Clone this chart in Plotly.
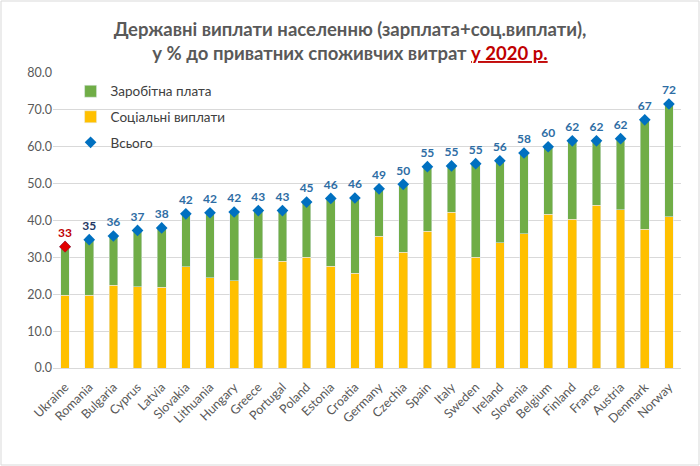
import plotly.graph_objects as go

countries = ["Ukraine", "Romania", "Bulgaria", "Cyprus", "Latvia", "Slovakia", "Lithuania",
             "Hungary", "Greece", "Portugal", "Poland", "Estonia", "Croatia", "Germany",
             "Czechia", "Spain", "Italy", "Sweden", "Ireland", "Slovenia", "Belgium",
             "Finland", "France", "Austria", "Denmark", "Norway"]
social = [19.7, 19.7, 22.5, 22.1, 21.9, 27.4, 24.5, 23.7, 29.6, 28.9, 30.0, 27.6, 25.7, 35.7,
          31.4, 37.1, 42.2, 30.1, 33.9, 36.4, 41.7, 40.3, 44.2, 42.9, 37.6, 41.0]
total = [32.9, 34.8, 35.8, 37.3, 38.0, 41.8, 42.1, 42.3, 42.7, 42.7, 45.0, 46.0, 46.1, 48.6,
         49.8, 54.6, 54.8, 55.4, 56.2, 58.3, 60.0, 61.6, 61.6, 62.2, 67.3, 71.6]
wage = [round(t - s, 1) for t, s in zip(total, social)]
labels = [f"{round(t):d}" for t in total]
highlight = "Ukraine"

FONT = "Lato, 'Noto Sans', sans-serif"
W, H = 700, 466
L, R, T, B = 53, 19, 73, 98

label_colors = ["#C00000" if c == highlight else ("#1F3864" if c == "Romania" else "#2E6DA4")
                for c in countries]

fig = go.Figure()
fig.add_trace(go.Bar(x=countries, y=social, name="Соціальні виплати",
                     marker_color="#FFC000", width=0.36, legendrank=2, legendgroup="b"))
fig.add_trace(go.Bar(x=countries, y=wage, name="Заробітна плата",
                     marker_color="#70AD47", width=0.36, legendrank=1, legendgroup="a"))
fig.add_trace(go.Scatter(x=countries, y=total, name="Всього", mode="markers+text",
                         marker=dict(symbol="diamond", size=9, color="#0070C0"),
                         text=labels, textposition="top center",
                         textfont=dict(size=12, color=label_colors, family=FONT, weight="bold"),
                         legendrank=3, legendgroup="c", cliponaxis=False))
hi = countries.index(highlight)
fig.add_trace(go.Scatter(x=[countries[hi]], y=[total[hi]], mode="markers", showlegend=False,
                         marker=dict(symbol="diamond", size=9, color="#E00000"),
                         hoverinfo="skip", cliponaxis=False))

pw = W - L - R
ph = H - T - B
fig.update_layout(
    width=W, height=H,
    margin=dict(l=L, r=R, t=T, b=B, autoexpand=False),
    barmode="stack",
    plot_bgcolor="white", paper_bgcolor="white",
    font=dict(family=FONT, color="#595959", size=12),
    title=dict(
        text="Державні виплати населенню (зарплата+соц.виплати),<br>у % до приватних споживчих витрат "
             "<span style='color:#C00000'><u>у 2020 р.</u></span>",
        x=0.5, xanchor="center", y=1 - 36 / H, yanchor="middle",
        font=dict(size=18.5, color="#595959", family=FONT, weight="bold"),
    ),
    legend=dict(x=0.028, y=0.99, xanchor="left", yanchor="top", bgcolor="rgba(0,0,0,0)",
                traceorder="grouped", tracegroupgap=5,
                font=dict(size=13.5, color="#404040", family=FONT), itemwidth=30),
    xaxis=dict(tickangle=-45, showgrid=False, showline=True, linecolor="#D9D9D9",
               range=[-0.5, len(countries) - 0.5], ticklabelstandoff=6,
               tickfont=dict(size=12.5, color="#595959"), ticks="", automargin=False),
    yaxis=dict(range=[0, 80], dtick=10, tickformat=".1f", showgrid=True, gridcolor="#D9D9D9",
               zeroline=False, tickfont=dict(size=12.5, color="#595959"), ticks="", automargin=False),
    showlegend=True,
    shapes=[dict(type="rect", xref="paper", yref="paper",
                 x0=-(L - 1) / pw, x1=1 + (R - 1) / pw, y0=-(B - 1) / ph, y1=1 + (T - 1) / ph,
                 line=dict(color="#D9D9D9", width=1), fillcolor="rgba(0,0,0,0)", layer="below")],
)

fig.write_html("out.html", config={"displayModeBar": False},
               post_script="document.body.style.margin='0';")
